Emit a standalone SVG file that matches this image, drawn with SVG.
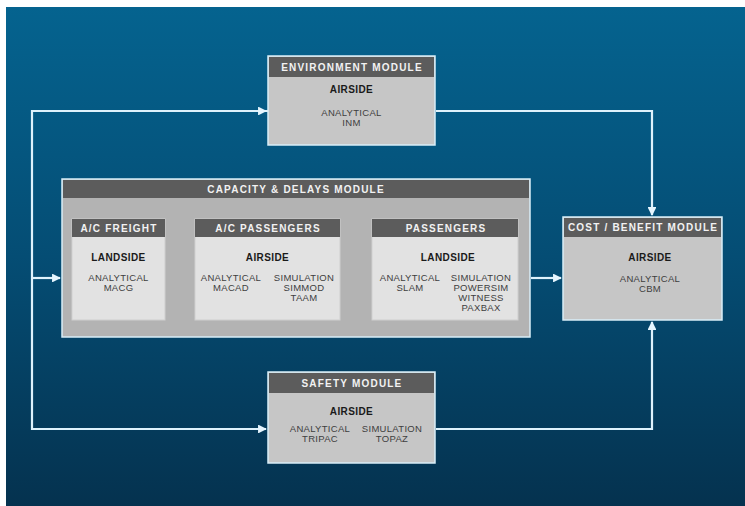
<svg xmlns="http://www.w3.org/2000/svg" width="745" height="506" viewBox="0 0 745 506">
<defs>
<linearGradient id="bg" x1="0" y1="0" x2="0" y2="1">
<stop offset="0" stop-color="#05638f"/>
<stop offset="0.5" stop-color="#054d74"/>
<stop offset="1" stop-color="#05324f"/>
</linearGradient>
<marker id="wa" viewBox="0 0 10 10" refX="9" refY="5" markerWidth="4" markerHeight="4" orient="auto-start-reverse">
<path d="M0,0 L10,5 L0,10 z" fill="#e6f6ff"/>
</marker>
<marker id="ba" viewBox="0 0 10 10" refX="9" refY="5" markerWidth="4" markerHeight="4" orient="auto-start-reverse">
<path d="M0,0 L10,5 L0,10 z" fill="#111"/>
</marker>
<style>
.mod{fill:#c6c6c6;stroke:#d9eef8;stroke-width:1.5}
.cap{fill:#b3b3b3;stroke:#d9eef8;stroke-width:1.5}
.sub{fill:#e2e2e2;stroke:#cfcfcf;stroke-width:1}
.hd{fill:#5c5c5c}
.ht{font-family:"Liberation Sans",Arial,sans-serif;font-weight:bold;font-size:10px;fill:#f2f2f2;text-anchor:middle;letter-spacing:1.2px}
.st{font-family:"Liberation Sans",Arial,sans-serif;font-weight:bold;font-size:10px;fill:#1a1a1a;text-anchor:middle;letter-spacing:0.4px}
.tt{font-family:"Liberation Sans",Arial,sans-serif;font-size:9.5px;fill:#3e3e3e;text-anchor:middle;letter-spacing:0.3px}
.cn{fill:none;stroke:#dff2fc;stroke-width:2.2}
.dc{fill:none;stroke:#111;stroke-width:1.5}
</style>
</defs>
<rect x="0" y="0" width="745" height="506" fill="#ffffff"/>
<rect x="6" y="7" width="739" height="499" fill="url(#bg)"/>

<g id="connectors">
<path class="cn" d="M268,111 L32,111 L32,429 L266,429" marker-end="url(#wa)"/>
<path class="cn" d="M32,111 L266,111" marker-end="url(#wa)"/>
<path class="cn" d="M32,278 L60,278" marker-end="url(#wa)"/>
<path class="cn" d="M531,278 L561,278" marker-end="url(#wa)"/>
<path class="cn" d="M436,111 L652,111 L652,215" marker-end="url(#wa)"/>
<path class="cn" d="M436,429 L652,429 L652,322" marker-end="url(#wa)"/>
<path class="dc" d="M167,278 L192,278" marker-start="url(#ba)" marker-end="url(#ba)"/>
<path class="dc" d="M343,278 L369,278" marker-start="url(#ba)" marker-end="url(#ba)"/>
</g>

<g id="environment">
<rect class="mod" x="268" y="56" width="167" height="89"/>
<rect class="hd" x="269" y="57" width="165" height="20"/>
<text class="ht" x="352" y="71">ENVIRONMENT MODULE</text>
<text class="st" x="351.5" y="93">AIRSIDE</text>
<text class="tt" x="351.5" y="116">ANALYTICAL</text>
<text class="tt" x="351.5" y="126">INM</text>
</g>

<g id="capacity">
<rect class="cap" x="62" y="179" width="468" height="158"/>
<rect class="hd" x="63" y="180" width="466" height="18"/>
<text class="ht" x="296" y="193">CAPACITY &amp; DELAYS MODULE</text>
</g>

<g id="ac-freight">
<rect class="sub" x="72" y="219" width="93" height="101"/>
<rect class="hd" x="72" y="219" width="93" height="18"/>
<text class="ht" x="119" y="232">A/C FREIGHT</text>
<text class="st" x="118.5" y="261">LANDSIDE</text>
<text class="tt" x="118.5" y="281">ANALYTICAL</text>
<text class="tt" x="118.5" y="291">MACG</text>
</g>

<g id="ac-passengers">
<rect class="sub" x="195" y="219" width="145" height="101"/>
<rect class="hd" x="195" y="219" width="145" height="18"/>
<text class="ht" x="268" y="232">A/C PASSENGERS</text>
<text class="st" x="267.5" y="261">AIRSIDE</text>
<text class="tt" x="231" y="281">ANALYTICAL</text>
<text class="tt" x="231" y="291">MACAD</text>
<text class="tt" x="304" y="281">SIMULATION</text>
<text class="tt" x="304" y="291">SIMMOD</text>
<text class="tt" x="304" y="301">TAAM</text>
</g>

<g id="passengers">
<rect class="sub" x="372" y="219" width="146" height="101"/>
<rect class="hd" x="372" y="219" width="146" height="18"/>
<text class="ht" x="446" y="232">PASSENGERS</text>
<text class="st" x="448" y="261">LANDSIDE</text>
<text class="tt" x="410" y="281">ANALYTICAL</text>
<text class="tt" x="410" y="291">SLAM</text>
<text class="tt" x="481" y="281">SIMULATION</text>
<text class="tt" x="481" y="291">POWERSIM</text>
<text class="tt" x="481" y="301">WITNESS</text>
<text class="tt" x="481" y="311">PAXBAX</text>
</g>

<g id="cost-benefit">
<rect class="mod" x="563" y="217" width="159" height="103"/>
<rect class="hd" x="564" y="218" width="157" height="19"/>
<text class="ht" x="643" y="231">COST / BENEFIT MODULE</text>
<text class="st" x="650" y="261">AIRSIDE</text>
<text class="tt" x="650" y="282">ANALYTICAL</text>
<text class="tt" x="650" y="292">CBM</text>
</g>

<g id="safety">
<rect class="mod" x="268" y="372" width="167" height="91"/>
<rect class="hd" x="269" y="373" width="165" height="20"/>
<text class="ht" x="352" y="387">SAFETY MODULE</text>
<text class="st" x="351.5" y="415">AIRSIDE</text>
<text class="tt" x="320" y="432">ANALYTICAL</text>
<text class="tt" x="320" y="442">TRIPAC</text>
<text class="tt" x="392" y="432">SIMULATION</text>
<text class="tt" x="392" y="442">TOPAZ</text>
</g>
</svg>
